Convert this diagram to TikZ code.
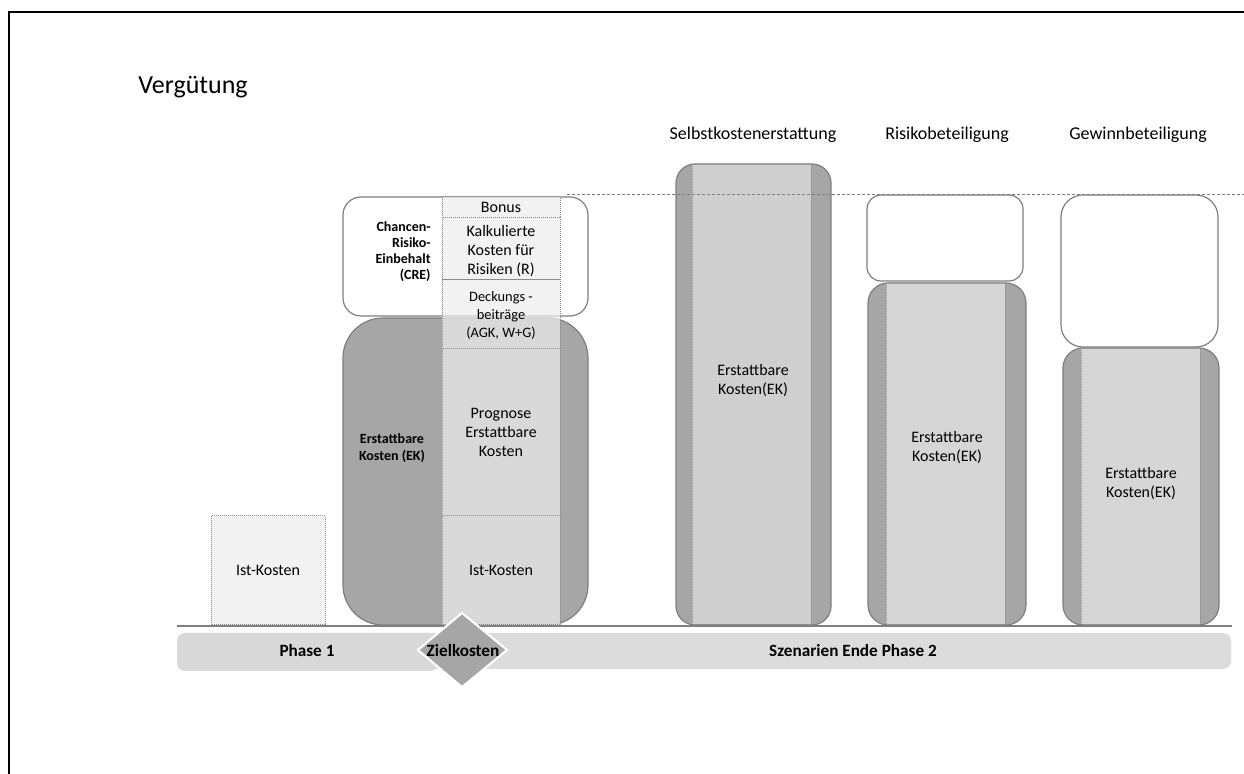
\documentclass[tikz,border=0pt]{standalone}
\usepackage{fontspec}
\setmainfont{Carlito}
\definecolor{darkbar}{HTML}{A6A6A6}
\definecolor{bordergray}{HTML}{7F7F7F}
\definecolor{dotgray}{HTML}{8C8C8C}
\definecolor{cellfill}{HTML}{EDEDED}
\definecolor{sonefill}{HTML}{CFCFCF}
\definecolor{sfill}{HTML}{D6D6D6}
\definecolor{barone}{HTML}{D9D9D9}
\definecolor{bartwo}{HTML}{DCDCDC}
\definecolor{istfill}{HTML}{F2F2F2}
\begin{document}
\begin{tikzpicture}[x=0.5pt,y=-0.5pt,
  outline/.style={draw=bordergray,line width=0.6pt},
  dotcell/.style={draw=dotgray,line width=0.5pt,dash pattern=on 0.5pt off 0.5pt},
  lbl/.style={font=\fontsize{8}{9.5}\selectfont,align=center,inner sep=0pt},
  blbl/.style={font=\fontsize{7}{8.5}\selectfont\bfseries,align=center,inner sep=0pt},
  barlbl/.style={font=\fontsize{8.6}{10}\selectfont\bfseries,inner sep=0pt},
  title/.style={font=\fontsize{9}{11}\selectfont,inner sep=0pt}]
\useasboundingbox (0,0) rectangle (1244,774);
\fill[white] (0,0) rectangle (1244,774);
% frame
\draw[line width=1pt,black] (9,774) -- (9,12) -- (1244,12);
\node[font=\fontsize{13}{15}\selectfont,anchor=west,inner sep=0pt] (verg) at (138,87) {Vergütung};
% titles
\node[title] (t1) at (753,135) {Selbstkostenerstattung};
\node[title] (t2) at (947,135) {Risikobeteiligung};
\node[title] (t3) at (1138,135) {Gewinnbeteiligung};
% middle column
\path[fill=white,outline,rounded corners=9pt] (343,197) rectangle (588,316);
\path[fill=darkbar,outline,rounded corners=20pt] (343,318) rectangle (588,625);
\foreach \ya/\yb in {197/218,218/280,280/349,349/516,516/625}
  \path[fill=cellfill,fill opacity=0.72,dotcell] (442,\ya) rectangle (560,\yb);
\node[lbl] (bonus) at (501,207) {Bonus};
\node[lbl,font=\fontsize{8}{9.3}\selectfont] (kalk) at (501,251) {Kalkulierte\\Kosten für\\Risiken (R)};
\node[lbl,font=\fontsize{7.2}{9}\selectfont] (deck) at (501,316) {Deckungs -\\beiträge\\(AGK, W+G)};
\node[lbl] (prog) at (501,432) {Prognose\\Erstattbare\\Kosten};
\node[lbl] (ist2) at (501,570) {Ist-Kosten};
\node[blbl,align=right,anchor=east,font=\fontsize{7}{8}\selectfont\bfseries] (cre) at (431,252) {Chancen-\\Risiko-\\Einbehalt\\(CRE)};
\node[blbl] (ekl) at (392,448) {Erstattbare\\Kosten (EK)};
% scenario 1
\path[fill=darkbar,rounded corners=9.5pt] (676,164) rectangle (831,625);
\begin{scope}
  \clip[rounded corners=9.5pt] (676,164) rectangle (831,625);
  \path[fill=sonefill,dotcell] (692,164) rectangle (811,625);
\end{scope}
\path[outline,rounded corners=9.5pt] (676,164) rectangle (831,625);
\node[lbl] (s1) at (753,381) {Erstattbare\\Kosten(EK)};
% scenario 2
\path[fill=white,outline,rounded corners=7pt] (867,195) rectangle (1023,281);
\path[fill=darkbar,rounded corners=10pt] (868,283) rectangle (1026,625);
\begin{scope}
  \clip[rounded corners=10pt] (868,283) rectangle (1026,625);
  \path[fill=sfill,dotcell] (886,283) rectangle (1005,625);
\end{scope}
\path[outline,rounded corners=10pt] (868,283) rectangle (1026,625);
\node[lbl] (s2) at (947,448) {Erstattbare\\Kosten(EK)};
% scenario 3
\path[fill=white,outline,rounded corners=11pt] (1061,195) rectangle (1218,347);
\path[fill=darkbar,rounded corners=10pt] (1063,348) rectangle (1219,625);
\begin{scope}
  \clip[rounded corners=10pt] (1063,348) rectangle (1219,625);
  \path[fill=sfill,dotcell] (1081,348) rectangle (1200,625);
\end{scope}
\path[outline,rounded corners=10pt] (1063,348) rectangle (1219,625);
\node[lbl] (s3) at (1141,484) {Erstattbare\\Kosten(EK)};
% dashed reference line
\draw[bordergray,line width=0.5pt,dash pattern=on 1.5pt off 1pt] (567,195) -- (1244,195);
% phase 1 box
\path[fill=istfill,dotcell] (211,516) rectangle (325,625);
\node[lbl] (ist1) at (268,570) {Ist-Kosten};
% baseline and bars
\draw[bordergray,line width=0.6pt] (177,626) -- (1232,626);
\path[fill=bartwo,rounded corners=4pt] (425,633) rectangle (1231,669);
\path[fill=barone,rounded corners=4pt] (177,633) rectangle (438,671);
\node[barlbl] (ph1) at (307,651) {Phase 1};
\node[barlbl] (ph2) at (853,651) {Szenarien Ende Phase 2};
\path[fill=darkbar,draw=white,line width=1pt] (462,613) -- (507,650) -- (462,687) -- (418,650) -- cycle;
\node[barlbl] (ziel) at (463,651) {Zielkosten};
\end{tikzpicture}
\end{document}
